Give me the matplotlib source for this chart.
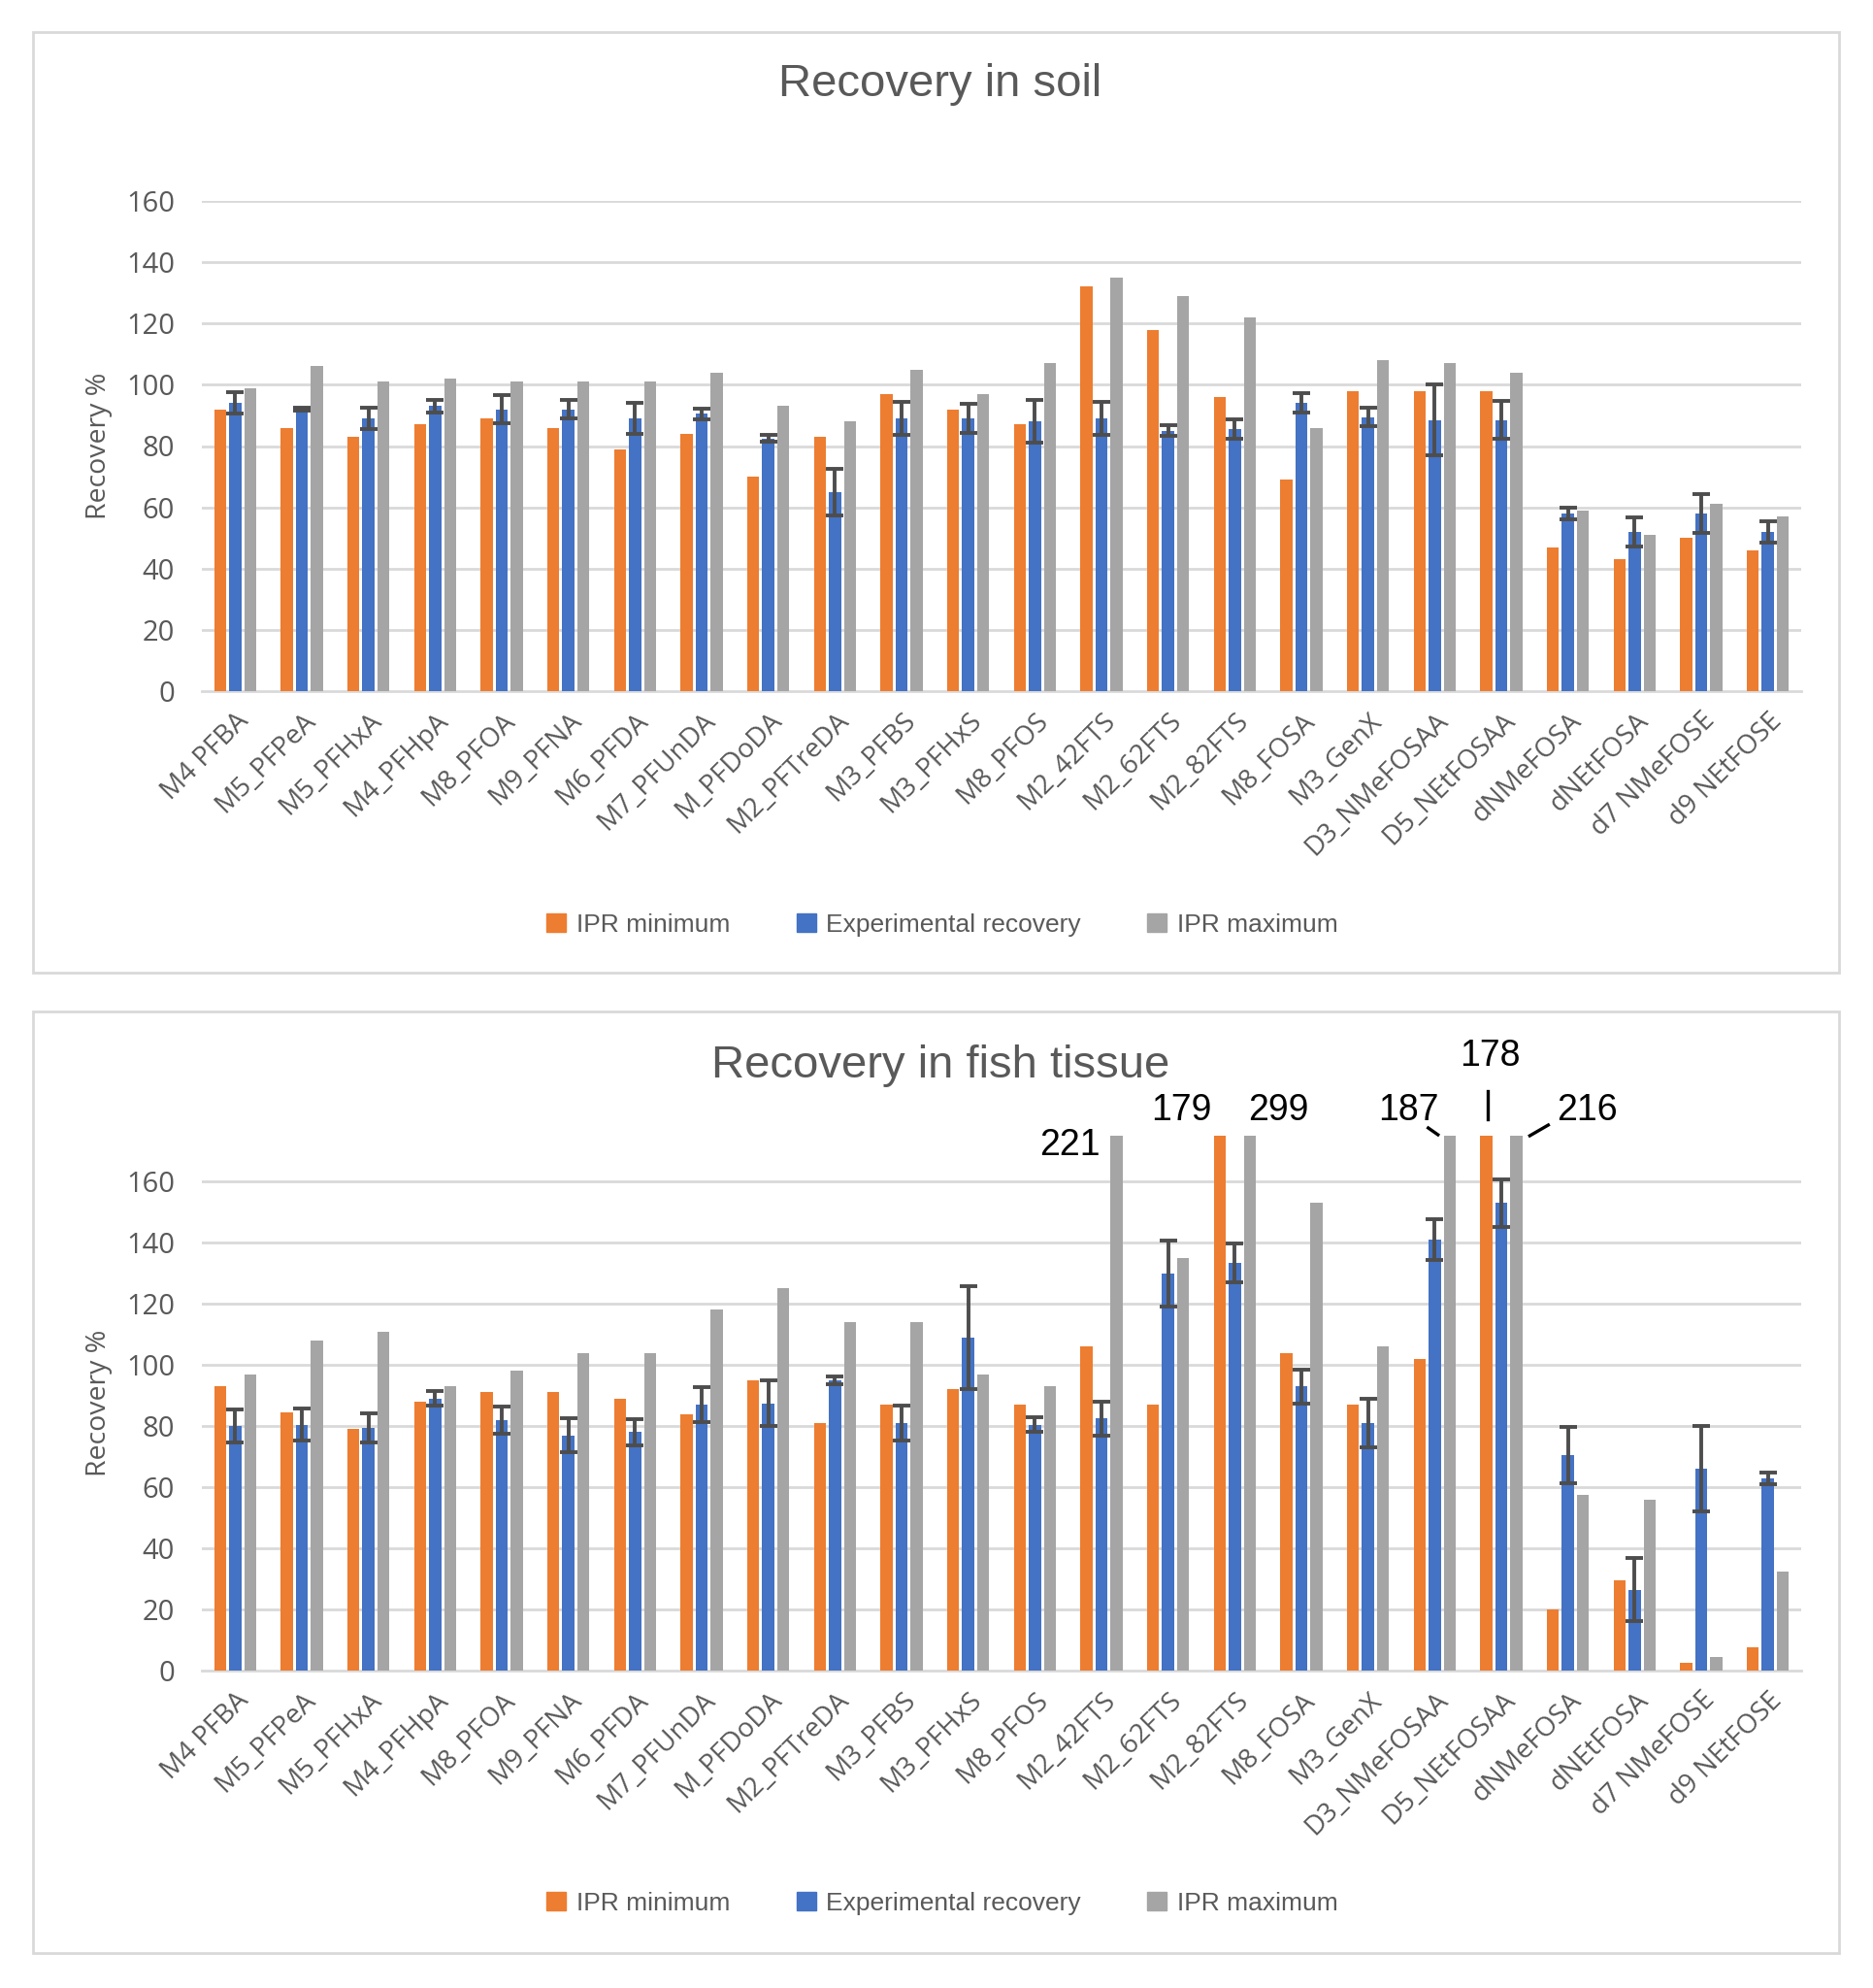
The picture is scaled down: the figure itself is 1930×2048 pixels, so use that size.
import numpy as np
import matplotlib
matplotlib.use("Agg")
import matplotlib.pyplot as plt
from matplotlib.patches import Rectangle, Patch

# ---- data ----
compounds = ["M4 PFBA", "M5_PFPeA", "M5_PFHxA", "M4_PFHpA", "M8_PFOA", "M9_PFNA",
             "M6_PFDA", "M7_PFUnDA", "M_PFDoDA", "M2_PFTreDA", "M3_PFBS", "M3_PFHxS",
             "M8_PFOS", "M2_42FTS", "M2_62FTS", "M2_82FTS", "M8_FOSA", "M3_GenX",
             "D3_NMeFOSAA", "D5_NEtFOSAA", "dNMeFOSA", "dNEtFOSA", "d7 NMeFOSE", "d9 NEtFOSE"]

soil_min = [92, 86, 83, 87, 89, 86, 79, 84, 70, 83, 97, 92,
            87, 132, 118, 96, 69, 98, 98, 98, 47, 43, 50, 46]
soil_exp = [94, 92, 89, 93, 92, 92, 89, 90.5, 82.5, 65, 89, 89,
            88, 89, 85, 85.5, 94, 89.5, 88.5, 88.5, 58, 52, 58, 52]
soil_err = [3.5, 0.4, 3.5, 2.2, 4.6, 3.0, 5.0, 1.8, 1.2, 7.5, 5.5, 4.8,
            7.0, 5.3, 1.8, 3.2, 3.2, 2.9, 11.5, 6.2, 1.9, 4.8, 6.3, 3.5]
soil_max = [99, 106, 101, 102, 101, 101, 101, 104, 93, 88, 105, 97,
            107, 135, 129, 122, 86, 108, 107, 104, 59, 51, 61, 57]

fish_min = [93, 84.5, 79, 88, 91, 91, 89, 84, 95, 81, 87, 92,
            87, 106, 87, 179, 104, 87, 102, 178, 20, 29.5, 2.5, 7.5]
fish_exp = [80, 80.5, 79.5, 89, 82, 77, 78, 87, 87.5, 95, 81, 109,
            80.5, 82.5, 130, 133.5, 93, 81, 141, 153, 70.5, 26.5, 66, 63]
fish_err = [5.5, 5.3, 4.8, 2.4, 4.5, 5.5, 4.2, 5.7, 7.4, 1.3, 5.7, 16.8,
            2.4, 5.5, 10.8, 6.4, 5.5, 8.0, 6.7, 7.8, 9.2, 10.3, 14.0, 1.9]
fish_max = [97, 108, 111, 93, 98, 104, 104, 118, 125, 114, 114, 97,
            93, 221, 135, 299, 153, 106, 187, 216, 57.5, 56, 4.5, 32.5]

series_names = ["IPR minimum", "Experimental recovery", "IPR maximum"]
yticks = [0, 20, 40, 60, 80, 100, 120, 140, 160]

# ---- style ----
ORANGE = "#ED7D31"; BLUE = "#4472C4"; GREY = "#A5A5A5"
GRID = "#D9D9D9"; TXT = "#595959"; ERR = "#4D4D4D"
TICKFONT = ["Open Sans", "DejaVu Sans"]
MAINFONT = ["Liberation Sans", "DejaVu Sans"]

W, H = 1931, 2048
fig = plt.figure(figsize=(W / 100, H / 100), dpi=100)


def fx(px):
    return px / W


def fy(py):
    return 1 - py / H


def panel_frame(top, bottom):
    fig.patches.append(Rectangle((fx(34), fy(bottom)), fx(1895 - 34), (bottom - top) / H,
                                 transform=fig.transFigure, fill=False, ec=GRID, lw=2.0))


def draw_panel(ax, title, mins, exps, errs, maxs, ytop, title_y):
    x = np.arange(len(compounds))
    bw = 0.18; off = 0.224
    vals = [np.minimum(mins, ytop), np.minimum(exps, ytop), np.minimum(maxs, ytop)]
    for v, c, o in zip(vals, [ORANGE, BLUE, GREY], [-off, 0, off]):
        ax.bar(x + o, v, width=bw, color=c, zorder=3)
    ax.errorbar(x, exps, yerr=errs, fmt="none", ecolor=ERR, elinewidth=2.8,
                capsize=6.5, capthick=2.8, zorder=4)
    ax.set_xlim(-0.5, len(compounds) - 0.5)
    ax.set_ylim(0, ytop)
    ax.set_yticks(yticks)
    for yv in yticks[1:]:
        ax.axhline(yv, color=GRID, lw=2.0, zorder=1)
    for s in ["top", "right", "left"]:
        ax.spines[s].set_visible(False)
    ax.spines["bottom"].set_color(GRID)
    ax.spines["bottom"].set_linewidth(2.0)
    ax.tick_params(axis="y", length=0, pad=20)
    ax.tick_params(axis="x", length=0, pad=12)
    ax.set_xticks(x)
    ax.set_xticklabels(compounds, rotation=45, ha="right", rotation_mode="anchor",
                       fontsize=20, color=TXT, family=TICKFONT)
    for lab in ax.get_yticklabels():
        lab.set_fontsize(21); lab.set_color(TXT); lab.set_family(TICKFONT)
    ax.set_ylabel("Recovery %", fontsize=20.5, color=TXT, family=TICKFONT, labelpad=10)
    fig.text(fx(969), fy(title_y), title, ha="center", va="center", fontsize=34,
             color=TXT, family=MAINFONT)
    return x, bw, off


# ---- top panel: soil ----
panel_frame(33, 1002)
ax1 = fig.add_axes([fx(208), fy(712), fx(1856 - 208), (712 - 207) / H])
draw_panel(ax1, "Recovery in soil", soil_min, soil_exp, soil_err, soil_max, 160, 87)

# ---- bottom panel: fish tissue ----
panel_frame(1042, 2012)
ax2 = fig.add_axes([fx(208), fy(1721), fx(1856 - 208), (1721 - 1170) / H])
x, bw, off = draw_panel(ax2, "Recovery in fish tissue", fish_min, fish_exp, fish_err,
                        fish_max, 175, 1098)

# labels for bars that run off the top of the fish axis
labels = [  # (series values, offset, index, dx px, dy px)
    (fish_max, off, 13, -48, -10),
    (fish_min, -off, 15, -40, 26),
    (fish_max, off, 15, 30, 26),
    (fish_max, off, 18, -42, 26),
    (fish_min, -off, 19, 4, 82),
    (fish_max, off, 19, 73, 26),
]
for vals, o, i, dx, dy in labels:
    ax2.annotate(f"{vals[i]:.0f}", xy=(x[i] + o, 175), xytext=(dx, dy),
                 textcoords="offset pixels", ha="center", va="center",
                 fontsize=27, color="black", family=MAINFONT, annotation_clip=False)

# little leader lines, in pixel offsets from the bar tops
leaders = [  # (offset, index, x0, y0, x1, y1)
    (off, 18, -22, 8, -12, 1),
    (-off, 19, 1, 46, 1, 17),
    (off, 19, 14, 0, 33, 11),
]
for o, i, x0, y0, x1, y1 in leaders:
    bx, by = ax2.transData.transform((x[i] + o, 175))
    inv = ax2.transData.inverted()
    p0 = inv.transform((bx + x0, by + y0)); p1 = inv.transform((bx + x1, by + y1))
    ax2.plot([p0[0], p1[0]], [p0[1], p1[1]], color="black", lw=2.4, clip_on=False, zorder=5)

# ---- legends ----
handles = [Patch(color=c) for c in [ORANGE, BLUE, GREY]]
for ly in (953, 1961):
    fig.legend(handles, series_names, loc="center", bbox_to_anchor=(fx(971), fy(ly)),
               ncol=3, frameon=False, handlelength=0.75, handleheight=0.75,
               handletextpad=0.4, columnspacing=2.6,
               prop={"family": MAINFONT, "size": 19}, labelcolor=TXT)

fig.savefig("out.png", dpi=100, facecolor="white")
